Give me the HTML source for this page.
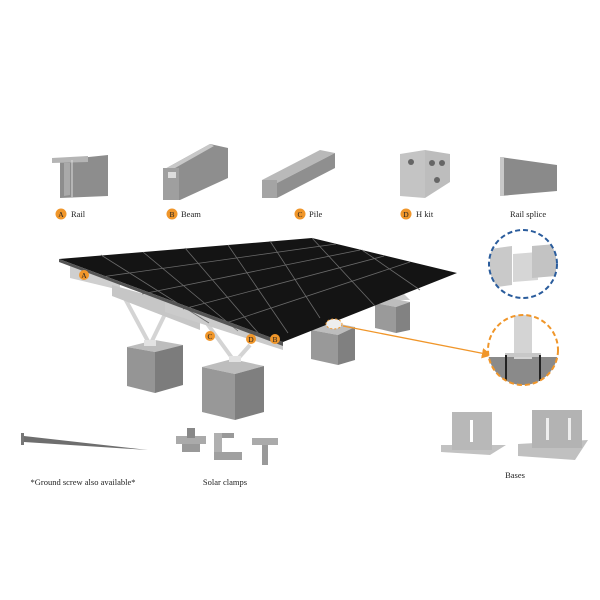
<!DOCTYPE html>
<html><head><meta charset="utf-8"><style>
html,body{margin:0;padding:0;background:#fff;}
svg{display:block}
text{font-family:"Liberation Serif",serif;fill:#222}
</style></head><body>
<svg width="600" height="600" viewBox="0 0 600 600" xmlns="http://www.w3.org/2000/svg">
<defs>
<marker id="ar" markerWidth="8" markerHeight="8" refX="7" refY="4" orient="auto"><path d="M0,0 L8,4 L0,8z" fill="#f0962a"/></marker>
<clipPath id="c1"><circle cx="523" cy="350" r="35"/></clipPath>
<clipPath id="c2"><circle cx="523" cy="264" r="34"/></clipPath>
</defs>
<rect width="600" height="600" fill="#fff"/>

<!-- Top parts -->
<!-- Rail -->
<polygon points="60,160 108,155 108,196 60,198" fill="#8d8d8d"/>
<polygon points="52,158 88,156 88,162 52,163" fill="#b5b5b5"/>
<polygon points="64,163 70,163 70,195 64,196" fill="#a9a9a9"/>
<line x1="72" y1="160" x2="72" y2="197" stroke="#ddd" stroke-width="1"/>
<!-- Beam -->
<polygon points="163,170 210,144 228,148 228,178 180,200 163,200" fill="#8e8e8e"/>
<polygon points="163,170 210,144 214,146 168,172" fill="#c8c8c8"/>
<rect x="163" y="168" width="16" height="32" fill="#9f9f9f"/>
<rect x="168" y="172" width="8" height="6" fill="#ddd"/>
<!-- Pile -->
<polygon points="262,180 320,150 335,153 277,183" fill="#b9b9b9"/>
<polygon points="277,183 335,153 335,168 277,198" fill="#8f8f8f"/>
<rect x="262" y="180" width="15" height="18" fill="#a4a4a4"/>
<!-- H kit -->
<polygon points="400,154 425,150 425,198 400,196" fill="#c4c4c4"/>
<polygon points="425,150 450,154 450,182 425,198" fill="#bdbdbd"/>
<circle cx="411" cy="162" r="3" fill="#666"/><circle cx="432" cy="163" r="3" fill="#666"/><circle cx="442" cy="163" r="3" fill="#666"/><circle cx="437" cy="180" r="3" fill="#666"/>
<!-- Rail splice -->
<polygon points="500,157 557,165 557,191 500,196" fill="#8a8a8a"/>
<rect x="500" y="157" width="4" height="39" fill="#c8c8c8"/>

<g font-size="8.5">
<circle cx="61" cy="214" r="5.5" fill="#f0962a"/><text x="61" y="217" font-size="7.5" text-anchor="middle" fill="#333">A</text><text x="71" y="217">Rail</text>
<circle cx="172" cy="214" r="5.5" fill="#f0962a"/><text x="172" y="217" font-size="7.5" text-anchor="middle" fill="#333">B</text><text x="181" y="217">Beam</text>
<circle cx="300" cy="214" r="5.5" fill="#f0962a"/><text x="300" y="217" font-size="7.5" text-anchor="middle" fill="#333">C</text><text x="309" y="217">Pile</text>
<circle cx="406" cy="214" r="5.5" fill="#f0962a"/><text x="406" y="217" font-size="7.5" text-anchor="middle" fill="#333">D</text><text x="416" y="217">H kit</text>
<text x="510" y="217">Rail splice</text>
</g>

<!-- Struts & rails -->
<g stroke="#d4d4d4" stroke-width="4">
<line x1="150" y1="345" x2="122" y2="293"/><line x1="150" y1="345" x2="168" y2="308"/>
<line x1="235" y1="362" x2="203" y2="318"/><line x1="235" y1="362" x2="250" y2="345"/>
</g>
<polygon points="70,266 120,282 120,290 70,278" fill="#cfcfcf"/>
<polygon points="112,285 165,300 200,322 200,330 112,296" fill="#c6c6c6"/>
<polygon points="165,300 228,320 283,340 283,350 165,312" fill="#cbcbcb"/>
<polygon points="375,300 410,300 400,290" fill="#ccc"/>

<!-- Blocks -->
<polygon points="127,347 155,352 183,345 155,340" fill="#bdbdbd"/>
<polygon points="127,347 155,352 155,393 127,386" fill="#959595"/>
<polygon points="155,352 183,345 183,385 155,393" fill="#7c7c7c"/>
<polygon points="202,367 235,374 264,366 232,359" fill="#bdbdbd"/>
<polygon points="202,367 235,374 235,420 202,412" fill="#989898"/>
<polygon points="235,374 264,366 264,412 235,420" fill="#7f7f7f"/>
<polygon points="311,330 338,335 355,327 330,322" fill="#bdbdbd"/>
<polygon points="311,330 338,335 338,365 311,359" fill="#999"/>
<polygon points="338,335 355,327 355,360 338,365" fill="#808080"/>
<polygon points="375,303 396,307 410,302 390,298" fill="#bdbdbd"/>
<polygon points="375,303 396,307 396,333 375,328" fill="#9a9a9a"/>
<polygon points="396,307 410,302 410,330 396,333" fill="#828282"/>
<rect x="144" y="340" width="12" height="6" fill="#e2e2e2"/>
<rect x="229" y="356" width="12" height="6" fill="#e2e2e2"/>

<!-- Panel -->
<polygon points="59,259 312,238 457,273 283,342" fill="#141414"/>
<g stroke="#6a6a6a" stroke-width="0.8">
<line x1="101" y1="277" x2="336" y2="244"/>
<line x1="142" y1="294" x2="360" y2="250"/>
<line x1="183" y1="309" x2="384" y2="256"/>
<line x1="226" y1="323" x2="410" y2="262"/>
<line x1="101" y1="255" x2="209" y2="323"/>
<line x1="143" y1="252" x2="238" y2="331"/>
<line x1="185" y1="248" x2="260" y2="335"/>
<line x1="228" y1="245" x2="288" y2="333"/>
<line x1="270" y1="241" x2="320" y2="318"/>
<line x1="312" y1="238" x2="375" y2="306"/>
<line x1="362" y1="250" x2="420" y2="290"/>
</g>
<polygon points="59,259 283,342 283,346 59,262" fill="#555"/>
<polygon points="275,332 285,339 290,330" fill="none"/>

<!-- labels on structure -->
<g font-size="7.5">
<circle cx="84" cy="275" r="5" fill="#f0962a"/><text x="84" y="278" text-anchor="middle" fill="#333">A</text>
<circle cx="210" cy="336" r="5" fill="#f0962a"/><text x="210" y="339" text-anchor="middle" fill="#333">C</text>
<circle cx="251" cy="339" r="5" fill="#f0962a"/><text x="251" y="342" text-anchor="middle" fill="#333">D</text>
<circle cx="275" cy="339" r="5" fill="#f0962a"/><text x="275" y="342" text-anchor="middle" fill="#333">B</text>
</g>

<!-- detail highlight + arrow -->
<ellipse cx="334" cy="324" rx="8" ry="5" fill="#eee" stroke="#f0962a" stroke-dasharray="2,2" stroke-width="1"/>
<line x1="343" y1="326" x2="491" y2="355" stroke="#f0962a" stroke-width="1.3" marker-end="url(#ar)"/>

<!-- Blue circle -->
<g clip-path="url(#c2)">
<rect x="488" y="230" width="70" height="70" fill="#fff"/>
<polygon points="490,249 512,246 512,285 490,288" fill="#c9c9c9"/>
<polygon points="513,254 538,252 538,280 513,282" fill="#d6d6d6"/>
<polygon points="532,246 556,244 556,276 532,278" fill="#c3c3c3"/>
</g>
<circle cx="523" cy="264" r="34" fill="none" stroke="#2a5c9c" stroke-width="2" stroke-dasharray="5,3"/>

<!-- Orange circle -->
<g clip-path="url(#c1)">
<rect x="486" y="312" width="75" height="76" fill="#fff"/>
<rect x="486" y="357" width="75" height="35" fill="#8a8a8a"/>
<rect x="514" y="314" width="18" height="45" fill="#d4d4d4"/>
<rect x="505" y="353" width="36" height="4" fill="#c8c8c8"/>
<line x1="506" y1="355" x2="506" y2="390" stroke="#222" stroke-width="2"/>
<line x1="540" y1="355" x2="540" y2="390" stroke="#222" stroke-width="2"/>
</g>
<circle cx="523" cy="350" r="35" fill="none" stroke="#f0962a" stroke-width="2" stroke-dasharray="5,3"/>

<!-- Ground screw -->
<rect x="21" y="433" width="3" height="12" fill="#777"/>
<polygon points="24,436 148,450 24,442" fill="#6e6e6e"/>
<!-- Clamps -->
<rect x="176" y="436" width="30" height="8" fill="#aaa"/><rect x="187" y="428" width="8" height="10" fill="#888"/><rect x="182" y="444" width="18" height="8" fill="#999"/>
<rect x="214" y="433" width="8" height="25" fill="#b0b0b0"/><rect x="214" y="452" width="28" height="8" fill="#a0a0a0"/><rect x="222" y="433" width="12" height="5" fill="#999"/>
<rect x="252" y="438" width="26" height="7" fill="#aaa"/><rect x="262" y="445" width="6" height="20" fill="#999"/>
<!-- Bases -->
<polygon points="441,445 506,445 490,455 441,452" fill="#c2c2c2"/>
<rect x="452" y="412" width="40" height="38" fill="#b8b8b8"/>
<rect x="470" y="420" width="3" height="22" fill="#fff"/>
<polygon points="518,444 588,440 575,460 518,456" fill="#c0c0c0"/>
<rect x="532" y="410" width="50" height="38" fill="#b3b3b3"/>
<rect x="546" y="418" width="3" height="22" fill="#eee"/><rect x="568" y="418" width="3" height="22" fill="#eee"/>

<g font-size="8.5" text-anchor="middle">
<text x="83" y="485">*Ground screw also available*</text>
<text x="225" y="485">Solar clamps</text>
<text x="515" y="478">Bases</text>
</g>
</svg>
</body></html>
